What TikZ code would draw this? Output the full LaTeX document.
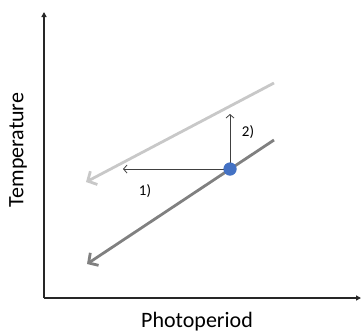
\documentclass[tikz,border=0pt]{standalone}
\usepackage{fontspec}
\setmainfont{Carlito}
\usetikzlibrary{arrows.meta}
\definecolor{lightline}{RGB}{200,200,200}
\definecolor{darkline}{RGB}{128,128,128}
\definecolor{dotblue}{RGB}{68,114,196}
\begin{document}
\begin{tikzpicture}[x=1pt,y=-1pt,
  axisline/.style={draw=black!85,line width=1.4pt,-{Triangle[length=5pt,width=5pt]}},
  trendlight/.style={draw=lightline,line width=2.8pt,-{Straight Barb[length=7pt,width=15pt]}},
  trenddark/.style={draw=darkline,line width=2.8pt,-{Straight Barb[length=7pt,width=15pt]}},
  shiftarrow/.style={draw=black!75,line width=0.8pt,-{Straight Barb[length=3.5pt,width=8pt]}},
  lbl/.style={font=\fontsize{15}{18}\selectfont,inner sep=0pt}]
\useasboundingbox (0,0) rectangle (361,333);
\coordinate (origin) at (44,298);
\coordinate (ytop) at (44,12);
\coordinate (xend) at (361,298);
\draw[axisline] (origin) -- (ytop);
\draw[axisline] (origin) -- (xend);
\coordinate (l1) at (274,83);
\coordinate (l2) at (86,182);
\coordinate (d1) at (274,140);
\coordinate (d2) at (87,264);
\draw[trendlight] (l1) -- (l2);
\draw[trenddark] (d1) -- (d2);
\coordinate (h1) at (123,169);
\coordinate (v1) at (230,114);
\node[circle,fill=dotblue,minimum size=13pt,inner sep=0pt] (dot) at (230,169) {};
\draw[shiftarrow] (dot.center) -- (h1);
\draw[shiftarrow] (dot.center) -- (v1);
\node[circle,fill=dotblue,minimum size=13pt,inner sep=0pt] at (dot.center) {};
\node[lbl] (n2) at (248,132) {2)};
\node[lbl] (n1) at (145,191) {1)};
\node[font=\fontsize{22}{26}\selectfont,rotate=90] (ylab) at (18,150) {Temperature};
\node[font=\fontsize{22}{26}\selectfont] (xlab) at (197,322) {Photoperiod};
\end{tikzpicture}
\end{document}
